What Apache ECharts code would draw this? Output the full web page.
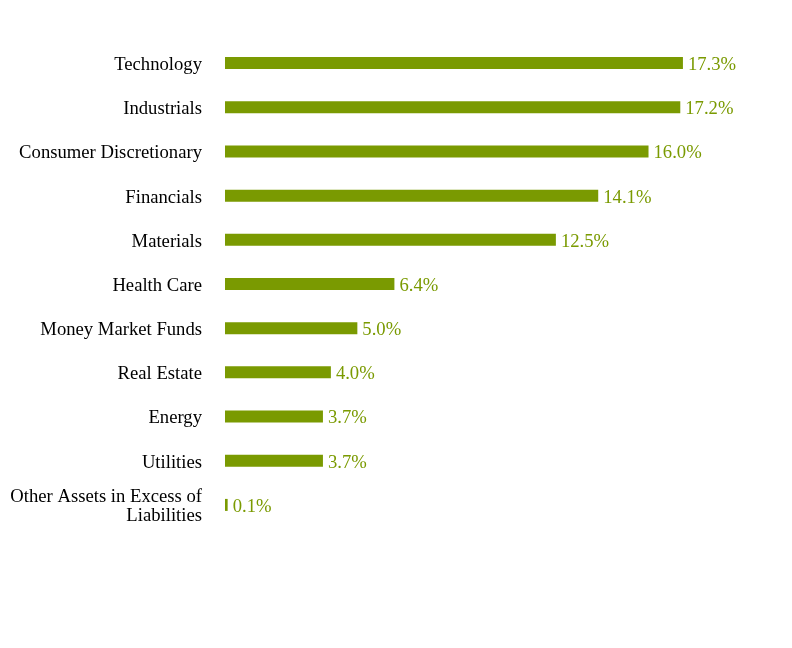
<!DOCTYPE html>
<html><head><meta charset="utf-8">
<script src="https://cdn.jsdelivr.net/npm/echarts@6/dist/echarts.min.js"></script>
<style>html,body{margin:0;padding:0;background:#fff}#c{width:792px;height:648px}</style>
</head><body><div id="c"></div>
<script>
const categories = ["Technology","Industrials","Consumer Discretionary","Financials","Materials","Health Care","Money Market Funds","Real Estate","Energy","Utilities","Other Assets in Excess of\nLiabilities"];
const values = [17.3,17.2,16.0,14.1,12.5,6.4,5.0,4.0,3.7,3.7,0.1];
const barColor = '#7a9a01';
const chart = echarts.init(document.getElementById('c'), null, {renderer:'canvas'});
chart.setOption({
  animation:false,
  grid:{left:225, top:41, width:529.4, height:486},
  xAxis:{type:'value', min:0, max:20, show:false},
  yAxis:{type:'category', data:categories, inverse:true,
    axisLine:{show:false}, axisTick:{show:false},
    axisLabel:{margin:23, color:'#000', fontFamily:'Liberation Serif', fontSize:18.67, lineHeight:19, align:'right',
      formatter:v=>v.split('\n').map(s=>'{a|'+s+'}').join('\n'),
      rich:{a:{fontFamily:'Liberation Serif', fontSize:18.67, lineHeight:19, color:'#000', padding:[4,0,0,0]}}}},
  series:[{type:'bar', data:values, barWidth:12, itemStyle:{color:barColor},
    label:{show:true, position:'right', distance:5, offset:[0,2], color:barColor, fontFamily:'Liberation Serif', fontSize:18.67,
      formatter:p=>p.value.toFixed(1)+'%'}}]
});
</script></body></html>
